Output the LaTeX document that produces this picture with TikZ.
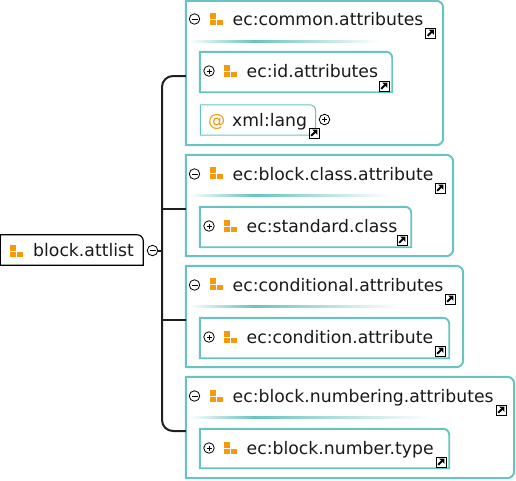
\documentclass[tikz,border=0pt]{standalone}
\usepackage{fontspec}
\setmainfont{DejaVu Sans}
\usetikzlibrary{fit}
\definecolor{panelteal}{HTML}{68C4BE}
\definecolor{iconorange}{HTML}{F59A0C}
\tikzset{
  boxname/.style={anchor=base west, inner sep=0pt, text=black!90, font=\fontsize{17.25}{20}\selectfont},
  outerline/.style={draw=panelteal, line width=2pt},
  innerline/.style={draw=panelteal, line width=1.9pt},
  thinline/.style={draw=panelteal, line width=1pt},
  rootline/.style={draw=black, line width=1.2pt},
  buswire/.style={draw=black!88, line width=2pt},
  toggle/.style={circle, draw=black, line width=0.8pt, fill=white, inner sep=0pt, minimum size=10.5pt},
  minustoggle/.style={toggle, path picture={\draw[line width=0.8pt] ([xshift=-3pt]path picture bounding box.center) -- ([xshift=3pt]path picture bounding box.center);}},
  plustoggle/.style={toggle, path picture={\draw[line width=0.8pt] ([xshift=-2.5pt]path picture bounding box.center) -- ([xshift=2.5pt]path picture bounding box.center);
    \draw[line width=0.8pt] ([yshift=-2.5pt]path picture bounding box.center) -- ([yshift=2.5pt]path picture bounding box.center);}},
  groupicon/.pic={
    \fill[iconorange] (0,0) rectangle (5.5,5.5);
    \fill[iconorange] (0,6.5) rectangle (5.5,12);
    \fill[iconorange] (7,6.5) rectangle (12.5,12);
  },
  linkicon/.pic={
    \draw[fill=white, line width=1pt] (0,0) rectangle (10,10);
    \draw[line width=2pt] (2.2,7.8) -- (6,4);
    \fill (3.2,1.6) -- (8.4,1.6) -- (8.4,6.8) -- cycle;
  },
}
% panel with a separator: name, left, top, right, bottom, end of separator
\newcommand{\outerbox}[6]{
  \node[fit={(#2,#3) (#4,#5)}, inner sep=0pt] (#1) {};
  \draw[outerline] (#1.north west) [rounded corners=7pt] -- (#1.north east) -- (#1.south east) [sharp corners] -- (#1.south west) -- cycle;
  \shade[left color=white, right color=panelteal] (#2+2,#3+39) rectangle (#2+68,#3+41);
  \shade[left color=panelteal, right color=white] (#2+68,#3+39) rectangle (#6,#3+41);
}
% box with only the top right corner rounded
\newcommand{\innerbox}[6]{
  \node[fit={(#3,#4) (#5,#6)}, inner sep=0pt] (#2) {};
  \draw[#1] (#2.north west) [rounded corners=6pt] -- (#2.north east) [sharp corners] -- (#2.south east) -- (#2.south west) -- cycle;
}
\begin{document}
\begin{tikzpicture}[x=1pt, y=-1pt]
\useasboundingbox (0,0) rectangle (516,480);
% root
\innerbox{rootline}{block}{0.5}{235}{143}{265}
\pic at (10,245) {groupicon};
\node[boxname] (blockname) at (33,256.5) {block.attlist};
\node[minustoggle] (blockminus) at (152.5,250.5) {};
% panels
\outerbox{common}{186}{1}{443}{145}{380}
\outerbox{classattr}{186}{155}{453}{256}{390}
\outerbox{conditional}{186}{266}{463}{367}{400}
\outerbox{numbering}{186}{377}{514}{478}{430}
% connectors
\coordinate (bus) at (162,250.5);
\draw[buswire] (blockminus) -- (bus);
\draw[buswire, rounded corners=11pt] ([yshift=-3pt]common.west) -| (bus) |- ([yshift=-3.5pt]numbering.west);
\draw[buswire] (bus |- classattr.west) ++(0,3.5) -- ++(24,0);
\draw[buswire] (bus |- conditional.west) ++(0,3.5) -- ++(24,0);
% common
\node[minustoggle] (commonminus) at (194.5,19) {};
\pic at (210,13) {groupicon};
\node[boxname] (commonname) at (232.5,25) {ec:common.attributes};
\pic at (425.5,28) {linkicon};
\innerbox{innerline}{idattr}{200}{52}{392}{92}
\node[plustoggle] (idplus) at (209,71) {};
\pic at (224,65) {groupicon};
\node[boxname] (idname) at (246.5,77) {ec:id.attributes};
\pic at (379,81) {linkicon};
\innerbox{thinline}{lang}{200.5}{105}{315.5}{135}
\node[boxname, text=iconorange] (langat) at (208,126) {@};
\node[boxname] (langname) at (232,126) {xml:lang};
\pic at (309,128) {linkicon};
\node[plustoggle] (langplus) at (324.5,119.5) {};
% class
\node[minustoggle] (classminus) at (194.5,174) {};
\pic at (210,167) {groupicon};
\node[boxname] (classname) at (232.5,180) {ec:block.class.attribute};
\pic at (435,183) {linkicon};
\innerbox{innerline}{stdclass}{200}{207}{411}{247}
\node[plustoggle] (stdplus) at (209,226) {};
\pic at (224,220) {groupicon};
\node[boxname] (stdname) at (246.5,232) {ec:standard.class};
\pic at (397,235) {linkicon};
% conditional
\node[minustoggle] (condminus) at (194.5,285) {};
\pic at (210,278) {groupicon};
\node[boxname] (condname) at (232.5,291) {ec:conditional.attributes};
\pic at (445,294) {linkicon};
\innerbox{innerline}{condattr}{200}{318}{449}{358}
\node[plustoggle] (condplus) at (209,337) {};
\pic at (224,331) {groupicon};
\node[boxname] (condattrname) at (246.5,343) {ec:condition.attribute};
\pic at (435,346) {linkicon};
% numbering
\node[minustoggle] (numminus) at (194.5,396) {};
\pic at (210,390) {groupicon};
\node[boxname] (numname) at (232.5,402) {ec:block.numbering.attributes};
\pic at (496,405) {linkicon};
\innerbox{innerline}{numtype}{200}{429}{449}{468}
\node[plustoggle] (numplus) at (209,448) {};
\pic at (224,442) {groupicon};
\node[boxname] (numtypename) at (246.5,454) {ec:block.number.type};
\pic at (436,457) {linkicon};
\end{tikzpicture}
\end{document}
